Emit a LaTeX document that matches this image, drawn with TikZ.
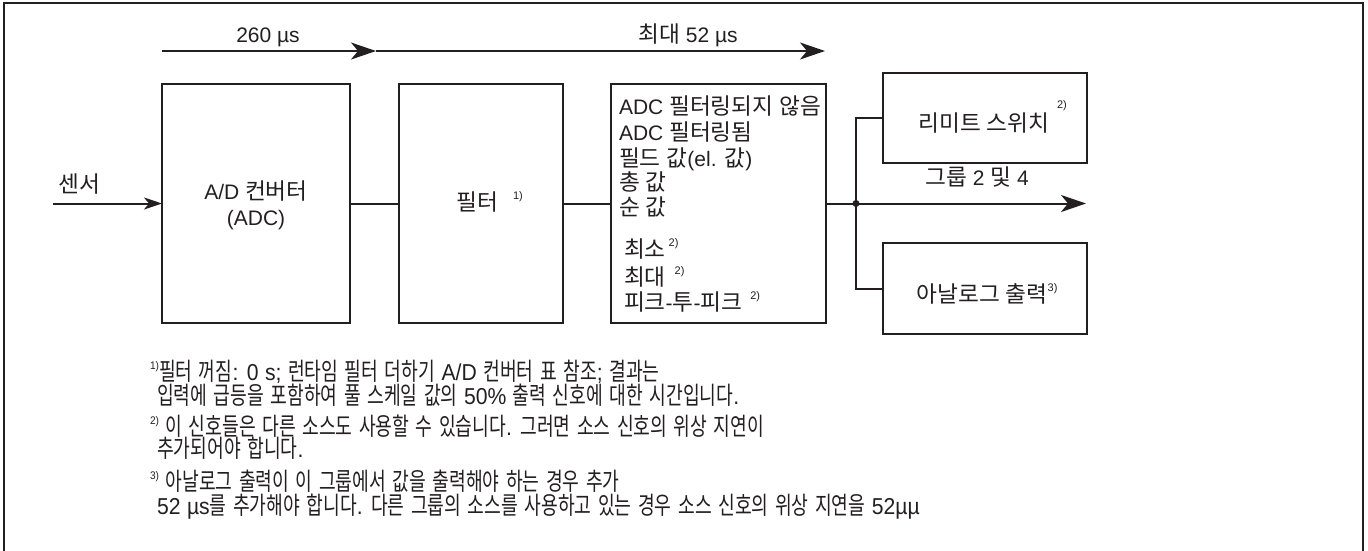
\documentclass[tikz,border=0pt]{standalone}
\usepackage{fontspec}
\usetikzlibrary{arrows.meta}
\setmainfont{Liberation Sans}
\newfontfamily\krfont{Noto Sans CJK KR}[Scale=1.08]
\newfontfamily\fnlat{Liberation Sans}[FakeStretch=0.92]
\newfontfamily\fnkr{Noto Sans CJK KR}[Scale=1.07,FakeStretch=0.74]
\XeTeXinterchartokenstate=1
\newXeTeXintercharclass\hangulclass
\count255="AC00
\loop\XeTeXcharclass\count255=\hangulclass\relax
\ifnum\count255<"D7A3 \advance\count255 by 1 \repeat
\def\KRsw{\krfont}
\def\LATsw{\rmfamily}
\XeTeXinterchartoks 0 \hangulclass = {\KRsw}
\XeTeXinterchartoks 4095 \hangulclass = {\KRsw}
\XeTeXinterchartoks \hangulclass 0 = {\LATsw}
\XeTeXinterchartoks \hangulclass 4095 = {\LATsw}
\definecolor{ink}{HTML}{231F20}
\newcommand{\supr}[1]{\raisebox{0.5em}{\fontsize{11}{11}\selectfont #1}}
\newcommand{\fnsup}[1]{\raisebox{0.45em}{\fontsize{11}{11}\selectfont #1}}
\newcommand{\fnsetup}{\def\KRsw{\fnkr}\def\LATsw{\fnlat}\fnlat\spaceskip=6.5pt\relax}
\begin{document}
\begin{tikzpicture}[x=1pt,y=-1pt,
  every node/.style={inner sep=0pt,outer sep=0pt,text=ink,font=\fontsize{21}{24}\selectfont},
  blk/.style={draw=ink,line width=2.4pt,rectangle,align=center},
  conn/.style={draw=ink,line width=2pt},
  bigarrow/.style={conn,-{Stealth[length=25pt,width=17pt,inset=7pt]}},
  smallarrow/.style={conn,-{Stealth[length=18pt,width=12pt,inset=5pt]}},
  lbl/.style={anchor=base},
  itemtxt/.style={anchor=base west},
  fn/.style={anchor=base west,font=\fontsize{23}{26}\selectfont,execute at begin node=\fnsetup}
]
\useasboundingbox (0,0) rectangle (1368,550);
\draw[ink,line width=2pt] (4,551) -- (4,3) -- (1363,3) -- (1363,551);

% blocks
\node[blk,minimum width=188pt,minimum height=239pt] (adc) at (256,203.5) {};
\node[blk,minimum width=164pt,minimum height=239pt] (filt) at (481,203.5) {};
\node[blk,minimum width=215pt,minimum height=239pt] (sig) at (718.5,203.5) {};
\node[blk,minimum width=204pt,minimum height=90pt] (lim) at (985,118) {};
\node[blk,minimum width=204pt,minimum height=91pt] (ana) at (985,288.5) {};

% block texts
\node[lbl] (adct1) at (256,199) {A/D 컨버터};
\node[lbl] (adct2) at (256,225) {(ADC)};
\node[lbl] (filtt) at (477,210) {필터};
\node[lbl] (filts) at (518,199) {\fontsize{11}{11}\selectfont 1)};
\node[itemtxt] (s1) at (619,114) {ADC 필터링되지 않음};
\node[itemtxt] (s2) at (619,140) {ADC 필터링됨};
\node[itemtxt] (s3) at (619,166) {필드 값(el. 값)};
\node[itemtxt] (s4) at (619,190) {총 값};
\node[itemtxt] (s5) at (619,215) {순 값};
\node[itemtxt] (s6) at (624,257) {최소\hspace{3pt}\supr{2)}};
\node[itemtxt] (s7) at (624,285) {최대\hspace{9pt}\supr{2)}};
\node[itemtxt] (s8) at (624,310) {피크-투-피크\hspace{8pt}\supr{2)}};
\node[lbl] (limt) at (984,131) {리미트 스위치};
\node[lbl] (lims) at (1062,108) {\fontsize{11}{11}\selectfont 2)};
\node[lbl] (anat) at (987,302) {아날로그 출력\supr{3)}};

% labels
\node[lbl] (sensor) at (79,192) {센서};
\node[lbl] (t260) at (268,42) {260 µs};
\node[lbl] (t52) at (688,42) {최대 52 µs};
\node[lbl] (grp) at (977,185) {그룹 2 및 4};

% top timing arrows
\coordinate (ta) at (162,51);
\coordinate (tb) at (376,51);
\coordinate (tc) at (825,51);
\draw[bigarrow] (ta) -- (tb);
\draw[bigarrow] (tb) -- (tc);

% signal flow
\coordinate (sin) at (53,203.5);
\draw[smallarrow] (sin) -- (adc.west);
\draw[conn] (adc.east) -- (filt.west);
\draw[conn] (filt.east) -- (sig.west);
\coordinate (j) at (856,203.5);
\coordinate (out) at (1086,203.5);
\draw[conn] (sig.east) -- (j);
\draw[bigarrow] (j) -- (out);
\draw[conn] (lim.west) -| (j) |- (ana.west);
\fill[ink] (j) circle (3.5pt);

% footnotes
\node[fn] (f1) at (150,380) {\fnsup{1)}필터 꺼짐: 0 s; 런타임 필터 더하기 A/D 컨버터 표 참조; 결과는};
\node[fn] (f2) at (157,404) {입력에 급등을 포함하여 풀 스케일 값의 50\% 출력 신호에 대한 시간입니다.};
\node[fn] (f3) at (150,435) {\fnsup{2)} 이 신호들은 다른 소스도 사용할 수 있습니다. 그러면 소스 신호의 위상 지연이};
\node[fn] (f4) at (157,457) {추가되어야 합니다.};
\node[fn] (f5) at (150,490) {\fnsup{3)} 아날로그 출력이 이 그룹에서 값을 출력해야 하는 경우 추가};
\node[fn] (f6) at (157,514) {52 µs를 추가해야 합니다. 다른 그룹의 소스를 사용하고 있는 경우 소스 신호의 위상 지연을 52µµ};
\end{tikzpicture}
\end{document}
